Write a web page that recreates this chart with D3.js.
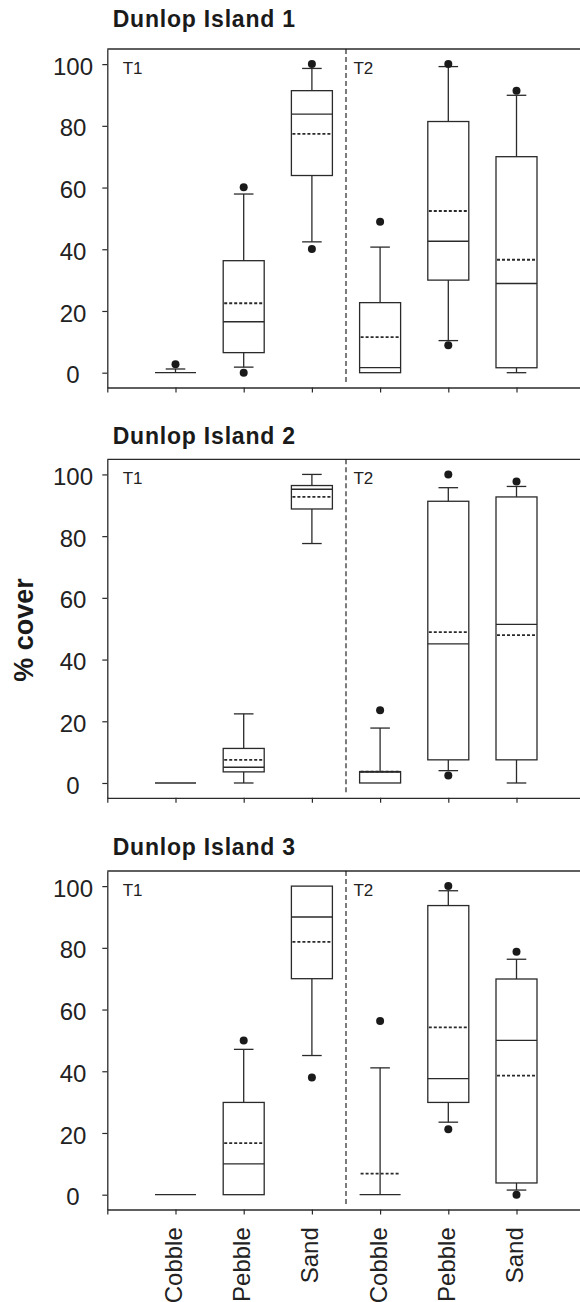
<!DOCTYPE html>
<html><head><meta charset="utf-8">
<script src="https://cdn.jsdelivr.net/npm/d3@7"></script>
<style>
html,body{margin:0;padding:0;background:#fff;}
svg{display:block;}
text{font-family:"Liberation Sans",Arial,Helvetica,sans-serif;fill:#222;}
</style></head>
<body>
<script>
// ---------- data ----------
const categories = ["Cobble","Pebble","Sand","Cobble","Pebble","Sand"];
const periods = ["T1","T2"];
const panelTitles = ["Dunlop Island 1","Dunlop Island 2","Dunlop Island 3"];
const yTicks = [0,20,40,60,80,100];
const yLabel = "% cover";

// box stats per category: lo whisker, q1, median, q3, hi whisker, mean, outliers
const island1 = [
  {lo:0,   q1:0,   med:0,    q3:0,    hi:1.2,  mean:0,    out:[2.75]},
  {lo:1.8, q1:6.5, med:16.5, q3:36.3, hi:57.9, mean:22.5, out:[0,60.1]},
  {lo:42.4,q1:63.9,med:83.8, q3:91.4, hi:98.6, mean:77.4, out:[100,40.1]},
  {lo:0,   q1:0,   med:1.65, q3:22.7, hi:40.7, mean:11.5, out:[48.9]},
  {lo:10.4,q1:30,  med:42.6, q3:81.4, hi:99.2, mean:52.4, out:[100,8.9]},
  {lo:0,   q1:1.6, med:28.9, q3:70,   hi:89.9, mean:36.6, out:[91.4]}
];
const island2 = [
  {lo:0,   q1:0,   med:0,    q3:0,    hi:0,    mean:0,    out:[]},
  {lo:0,   q1:3.6, med:5.1,  q3:11.2, hi:22.4, mean:7.5,  out:[]},
  {lo:77.6,q1:88.8,med:95.2, q3:96.4, hi:100,  mean:92.7, out:[]},
  {lo:0,   q1:0,   med:3.5,  q3:3.7,  hi:17.8, mean:3.7,  out:[23.6]},
  {lo:4,   q1:7.5, med:45.1, q3:91.3, hi:95.7, mean:48.9, out:[100,2.4]},
  {lo:0,   q1:7.5, med:51.4, q3:92.7, hi:96.1, mean:47.9, out:[97.7]}
];
const island3 = [
  {lo:0,   q1:0,   med:0,    q3:0,    hi:0,    mean:0,    out:[]},
  {lo:0,   q1:0,   med:10,   q3:29.9, hi:47.1, mean:16.7, out:[50]},
  {lo:45.1,q1:70,  med:90,   q3:100,  hi:100,  mean:81.9, out:[38]},
  {lo:0,   q1:0,   med:0,    q3:0,    hi:41.1, mean:6.8,  out:[56.3]},
  {lo:23.5,q1:29.9,med:37.6, q3:93.7, hi:98.5, mean:54.2, out:[100,21.2]},
  {lo:1.5, q1:3.8, med:50,   q3:69.9, hi:76.3, mean:38.6, out:[78.7,0]}
];
const islands = [island1, island2, island3];

// ---------- layout ----------
const W = 580, H = 1302;
const plotLeft = 107.3, plotRightEdge = 584.7;
const panelTops = [49, 459.3, 871];
const titleBaselines = [26.7, 444.3, 855];
const plotH = 338.5;
const boxW = 41, capW = 19.6;
const ink = "#2a2a2a";

const svg = d3.select("body").append("svg").attr("width", W).attr("height", H);

const x = d3.scaleLinear().domain([0, 7]).range([plotLeft, plotRightEdge]);

islands.forEach((isl, pi) => {
  const top = panelTops[pi];
  const y = d3.scaleLinear().domain([-4.8, 104.9]).range([top + plotH, top]);
  const g = svg.append("g");
  const bottom = top + plotH;

  // title
  g.append("text").attr("x", 112.7).attr("y", titleBaselines[pi])
    .attr("font-size", 23).attr("font-weight", "bold").attr("letter-spacing", "0.8px")
    .style("fill", "#1a1a1a").text(panelTitles[pi]);

  // top frame line
  g.append("line").attr("x1", plotLeft).attr("x2", W + 10).attr("y1", top).attr("y2", top)
    .attr("stroke", ink).attr("stroke-width", 1.3);

  // y axis
  const ya = g.append("g").attr("transform", `translate(${plotLeft},0)`)
    .call(d3.axisLeft(y).tickValues(yTicks).tickSize(5).tickSizeOuter(0));
  ya.select(".domain").attr("stroke", ink).attr("stroke-width", 1.3);
  ya.selectAll(".tick line").attr("stroke", ink).attr("stroke-width", 1.2);
  ya.selectAll(".tick text").attr("x", 73 - plotLeft).attr("text-anchor", "middle")
    .attr("dy", "0.42em").attr("font-size", 24).attr("font-family", null).style("fill", "#222");

  // x axis
  const xa = g.append("g").attr("transform", `translate(0,${bottom})`)
    .call(d3.axisBottom(x).tickValues([0,1,2,3,4,5,6]).tickSize(5).tickSizeOuter(0).tickFormat(""));
  xa.select(".domain").attr("stroke", ink).attr("stroke-width", 1.3);
  xa.selectAll(".tick line").attr("stroke", ink).attr("stroke-width", 1.2);

  // divider
  g.append("line").attr("x1", x(3.5)).attr("x2", x(3.5)).attr("y1", top).attr("y2", bottom - 4)
    .attr("stroke", "#111").attr("stroke-width", 1.1).attr("stroke-dasharray", "5,3");

  // period labels
  g.append("text").attr("x", plotLeft + 15.4).attr("y", top + 25).attr("font-size", 17).text(periods[0]);
  g.append("text").attr("x", x(3.5) + 7.4).attr("y", top + 25).attr("font-size", 17).text(periods[1]);

  // boxes
  isl.forEach((d, i) => {
    const cx = x(i + 1);
    const b = g.append("g");
    if (d.hi > d.q3) {
      b.append("line").attr("x1", cx).attr("x2", cx).attr("y1", y(d.q3)).attr("y2", y(d.hi))
        .attr("stroke", ink).attr("stroke-width", 1.3);
      b.append("line").attr("x1", cx - capW/2).attr("x2", cx + capW/2).attr("y1", y(d.hi)).attr("y2", y(d.hi))
        .attr("stroke", ink).attr("stroke-width", 1.3);
    }
    if (d.lo < d.q1) {
      b.append("line").attr("x1", cx).attr("x2", cx).attr("y1", y(d.q1)).attr("y2", y(d.lo))
        .attr("stroke", ink).attr("stroke-width", 1.3);
      b.append("line").attr("x1", cx - capW/2).attr("x2", cx + capW/2).attr("y1", y(d.lo)).attr("y2", y(d.lo))
        .attr("stroke", ink).attr("stroke-width", 1.3);
    }
    if (d.q3 > d.q1) {
      b.append("rect").attr("x", cx - boxW/2).attr("width", boxW)
        .attr("y", y(d.q3)).attr("height", y(d.q1) - y(d.q3))
        .attr("fill", "#fff").attr("stroke", ink).attr("stroke-width", 1.3);
    }
    b.append("line").attr("x1", cx - boxW/2).attr("x2", cx + boxW/2).attr("y1", y(d.med)).attr("y2", y(d.med))
      .attr("stroke", ink).attr("stroke-width", 1.3);
    if (d.mean !== d.med) {
      b.append("line").attr("x1", cx - boxW/2 + 1).attr("x2", cx + boxW/2 - 1).attr("y1", y(d.mean)).attr("y2", y(d.mean))
        .attr("stroke", ink).attr("stroke-width", 1.8).attr("stroke-dasharray", "3,2");
    }
    b.selectAll("circle").data(d.out).join("circle")
      .attr("cx", cx).attr("cy", v => y(v)).attr("r", 4).attr("fill", "#1a1a1a");
  });

  if (pi === islands.length - 1) {
    categories.forEach((c, i) => {
      g.append("text")
        .attr("transform", `translate(${x(i + 1) + 6.5},${bottom + 17.7}) rotate(-90)`)
        .attr("text-anchor", "end").attr("font-size", 24).text(c);
    });
  }
});

svg.append("text").attr("transform", "translate(33,630) rotate(-90)")
  .attr("text-anchor", "middle").attr("font-size", 27).attr("font-weight", "bold")
  .style("fill", "#1a1a1a").text(yLabel);
</script>
</body></html>
